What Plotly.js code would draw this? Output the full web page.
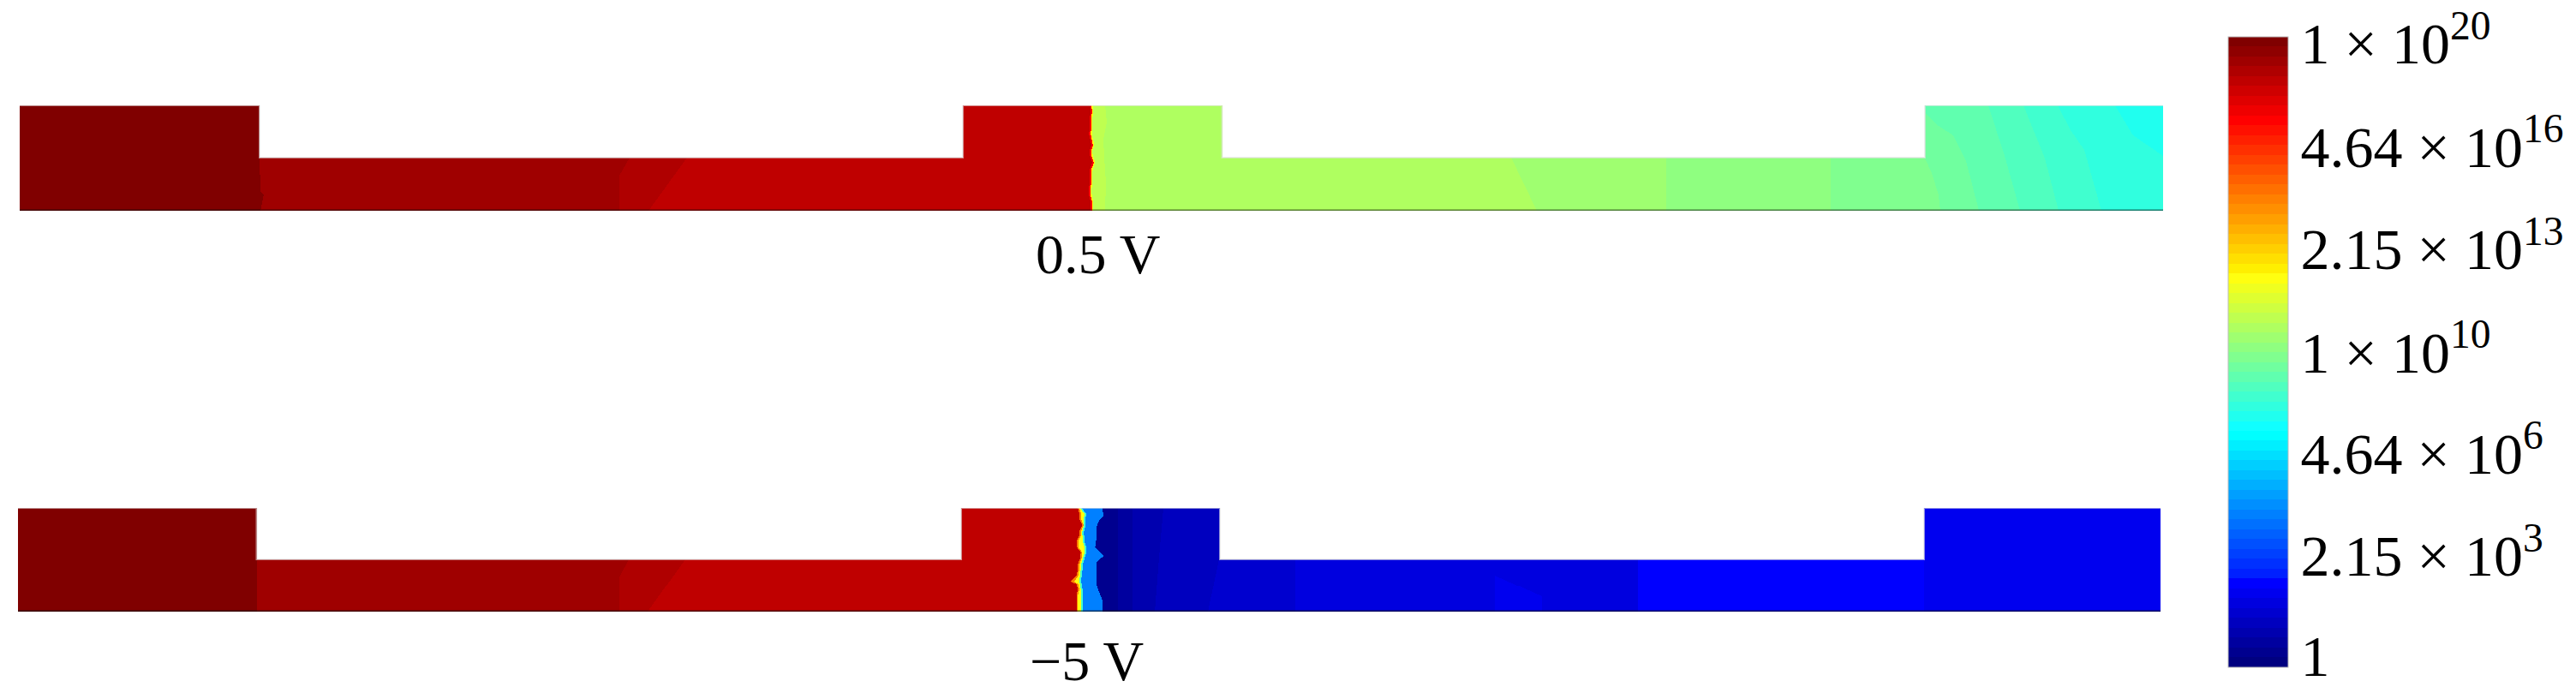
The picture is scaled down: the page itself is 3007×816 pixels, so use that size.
<!DOCTYPE html>
<html>
<head>
<meta charset="utf-8">
<script src="https://cdn.plot.ly/plotly-3.0.1.min.js"></script>
<style>body { margin: 0; background: #fff; }</style>
</head>
<body>
<div id="plot" style="width:3007px;height:816px;"></div>
<script>
// log10 of the concentration, one value per contour band, left to right
var topValues = [19.8, 19.2, 18.9, 18.6, 17.3, 12.3, 11.1, 10.8, 10.47, 10.16, 9.84, 9.53, 9.22, 8.9, 8.6, 8.28, 7.97, 7.66];
var bottomValues = [19.8, 19.2, 18.9, 18.6, 14.8, 12.3, 8.6, 4.84, 0.47, 0.78, 1.09, 1.4, 1.72, 2.03, 2.34, 2.03, 2.66, 2.34];

// band edges: [depths, positions along the device]
var topJunctionDepth = [0, 7, 13, 20, 27, 33, 40, 47, 53, 60, 67, 73, 80, 87, 93, 100, 107, 113, 123];
var topJunction = [1249.3, 1250.3, 1249.3, 1248.7, 1249.3, 1248, 1249.7, 1251, 1248.7, 1249.7, 1252, 1249.7, 1248.7, 1249.3, 1248.7, 1247.7, 1248.7, 1250.3, 1249.7];
var topJunctionRed = [1251, 1252, 1251, 1250.5, 1251, 1250, 1251.5, 1253, 1250.5, 1251.5, 1254, 1251.5, 1250.5, 1251, 1250.5, 1249.5, 1250.5, 1252, 1251.5];
var topJunctionYellow = [1252.5, 1253.5, 1252.5, 1252, 1252.5, 1251.5, 1253, 1254.5, 1252, 1253, 1255.5, 1253, 1252, 1252.5, 1252, 1251, 1252, 1253.5, 1253];
var topEdges = [
  [[0, 61, 100, 104, 123], [280, 280, 281, 285, 281]],
  [[0, 61, 82, 123], [712, 712, 700, 700]],
  [[0, 61, 123], [779, 779, 734]],
  [topJunctionDepth, topJunction],
  [topJunctionDepth, topJunctionRed],
  [topJunctionDepth, topJunctionYellow],
  [[0, 20, 40, 60, 90, 123], [1267, 1269, 1265, 1266, 1268, 1267]],
  [[0, 61, 123], [1741, 1741, 1771]],
  [[0, 123], [1922, 1922]],
  [[0, 123], [2114, 2114]],
  [[0, 62, 79, 105, 123], [2224, 2224, 2232, 2240, 2242]],
  [[0, 10, 24, 35, 65, 123], [2224, 2225, 2240, 2257, 2272, 2287]],
  [[0, 59, 123], [2298, 2317, 2335]],
  [[0, 62, 123], [2339, 2364, 2380]],
  [[0, 29, 52, 123], [2379, 2394, 2410, 2430]],
  [[0, 35, 59, 123], [2446, 2467, 2502, 2510]],
  [[0, 123], [2520, 2520]]
];

var bottomJunctionDepth = [0, 7, 13, 20, 27, 33, 40, 47, 53, 60, 67, 73, 80, 87, 90, 97, 103, 123];
var bottomJunction = [1237.3, 1239, 1239, 1242.3, 1239, 1239, 1235.7, 1236.3, 1240.7, 1239.7, 1237.3, 1237.3, 1235.7, 1229, 1235.7, 1237.3, 1235.7, 1235.7];
var bottomJunctionOrange = [1239, 1241, 1241, 1244, 1241, 1241, 1237.5, 1238, 1242.5, 1241.5, 1239, 1239, 1237.5, 1233, 1237.5, 1239, 1237.5, 1237.5];
var bottomJunctionYellow = [1240, 1245, 1244, 1244.5, 1242.5, 1242.5, 1243, 1245, 1245, 1243, 1240.7, 1240.7, 1239.7, 1239, 1239.7, 1240.7, 1240.7, 1240.7];
var bottomJunctionCyan = [1242, 1247, 1246, 1246.5, 1244.5, 1244.5, 1245, 1247, 1247, 1245, 1242.7, 1242.7, 1241.7, 1241, 1241.7, 1242.7, 1242.7, 1242.7];
var bottomEdges = [
  [[0, 123], [279, 279]],
  [[0, 61, 82, 123], [713, 713, 702, 702]],
  [[0, 61, 123], [779, 779, 735]],
  [bottomJunctionDepth, bottomJunction],
  [bottomJunctionDepth, bottomJunctionOrange],
  [bottomJunctionDepth, bottomJunctionYellow],
  [bottomJunctionDepth, bottomJunctionCyan],
  [[0, 9, 14, 22, 35, 47, 57, 64, 75, 92, 105, 110, 123], [1265.7, 1267.3, 1262.3, 1259, 1259, 1257.3, 1267.3, 1259, 1259, 1259, 1264, 1265.7, 1265.7]],
  [[0, 123], [1284, 1284]],
  [[0, 123], [1301, 1301]],
  [[0, 59, 123], [1337, 1332, 1327]],
  [[0, 61, 123], [1402, 1402, 1389]],
  [[0, 123], [1491, 1491]],
  [[0, 123], [1724, 1724]],
  [[0, 80, 105, 123], [1724, 1724, 1779, 1779]],
  [[0, 123], [1891, 1891]],
  [[0, 123], [2225, 2225]]
];

// device outline
var topOutlineX = [0, 280, 280, 1101, 1101, 1403.5, 1403.5, 2224, 2224, 2502];
var bottomOutlineX = [0, 278.5, 278.5, 1101, 1101, 1403, 1403, 2225, 2225, 2501];
var outlineDepth = [0, 0, 61, 61, 0, 0, 61, 61, 0, 0];

// colour bar labels
var tickValues = [19.8, 16.53, 13.27, 10.0, 6.8, 3.55, 0.38];
var tickLabels = ["1 × 10<sup>20</sup>", "4.64 × 10<sup>16</sup>", "2.15 × 10<sup>13</sup>", "1 × 10<sup>10</sup>", "4.64 × 10<sup>6</sup>", "2.15 × 10<sup>3</sup>", "1"];

var serif = "Liberation Serif, serif";

function edgeAt(edge, d) {
  var ds = edge[0], xs = edge[1];
  for (var i = 1; i < ds.length; i++) {
    if (d <= ds[i]) return xs[i - 1] + (xs[i] - xs[i - 1]) * (d - ds[i - 1]) / (ds[i] - ds[i - 1]);
  }
  return xs[xs.length - 1];
}

// cuts the bands into a grid, cells over the two notches stay empty
function buildGrid(length, outlineX, values, edges) {
  var z = [], x = [], y = [];
  for (var i = 0; i < length; i++) x.push(i + 0.5);
  for (var r = 0; r < 123; r++) {
    var d = r + 0.5;
    y.push(d);
    var row = edges.map(function (e) { return edgeAt(e, d); });
    var cells = new Array(length), b = 0;
    for (var c = 0; c < length; c++) {
      var px = c + 0.5;
      while (b < row.length && px >= row[b]) b++;
      var inNotch = (px > outlineX[1] && px < outlineX[3]) || (px > outlineX[5] && px < outlineX[7]);
      cells[c] = (d < outlineDepth[2] && inNotch) ? null : values[b];
    }
    z.push(cells);
  }
  return {x: x, y: y, z: z};
}

// 64 level jet, same steps as the original bar
function ramp(i) {
  if (i < 1 || i > 47) return 0;
  if (i <= 16) return i / 16;
  if (i <= 31) return 1;
  return (48 - i) / 16;
}
var jetScale = [];
for (var k = 1; k <= 64; k++) {
  var green = k === 9 ? 0 : ramp(k - 8); // level 9 is pure blue in the original
  var col = "rgb(" + Math.round(255 * ramp(k - 24)) + "," + Math.round(255 * green) + "," + Math.round(255 * ramp(k + 7)) + ")";
  jetScale.push([(k - 1) / 64, col]);
  jetScale.push([k / 64, col]);
}

var topGrid = buildGrid(2502, topOutlineX, topValues, topEdges);
var bottomGrid = buildGrid(2501, bottomOutlineX, bottomValues, bottomEdges);

var data = [
  {type: "heatmap", x: topGrid.x, y: topGrid.y, z: topGrid.z, coloraxis: "coloraxis", hoverinfo: "skip", xaxis: "x", yaxis: "y"},
  {type: "heatmap", x: bottomGrid.x, y: bottomGrid.y, z: bottomGrid.z, coloraxis: "coloraxis", hoverinfo: "skip", xaxis: "x2", yaxis: "y2"},
  {type: "scatter", mode: "lines", x: topOutlineX, y: outlineDepth, xaxis: "x", yaxis: "y", cliponaxis: false, hoverinfo: "skip",
    line: {color: "rgba(225,225,225,0.6)", width: 2}},
  {type: "scatter", mode: "lines", x: bottomOutlineX, y: outlineDepth, xaxis: "x2", yaxis: "y2", cliponaxis: false, hoverinfo: "skip",
    line: {color: "rgba(225,225,225,0.6)", width: 2}},
  {type: "scatter", mode: "lines", x: [0, 2502], y: [122.5, 122.5], xaxis: "x", yaxis: "y", cliponaxis: false, hoverinfo: "skip",
    line: {color: "rgba(0,0,0,0.5)", width: 2}},
  {type: "scatter", mode: "lines", x: [0, 2501], y: [122.5, 122.5], xaxis: "x2", yaxis: "y2", cliponaxis: false, hoverinfo: "skip",
    line: {color: "rgba(0,0,0,0.6)", width: 2}}
];

var layout = {
  width: 3007,
  height: 816,
  margin: {l: 0, r: 0, t: 0, b: 0},
  paper_bgcolor: "#fff",
  plot_bgcolor: "rgba(0,0,0,0)",
  showlegend: false,
  xaxis: {domain: [23 / 3007, 2525 / 3007], range: [0, 2502], visible: false},
  yaxis: {domain: [1 - 246 / 816, 1 - 123 / 816], range: [123, 0], visible: false},
  xaxis2: {domain: [21 / 3007, 2522 / 3007], range: [0, 2501], visible: false, anchor: "y2"},
  yaxis2: {domain: [1 - 714 / 816, 1 - 593 / 816], range: [123, 0], visible: false, anchor: "x2"},
  coloraxis: {
    cmin: 0,
    cmax: 20,
    colorscale: jetScale,
    colorbar: {
      x: 2601 / 3007, xanchor: "left", xpad: 0,
      y: 1 - 43 / 816, yanchor: "top", ypad: 0,
      len: 736 / 816, lenmode: "fraction",
      thickness: 70, thicknessmode: "pixels",
      outlinewidth: 1, outlinecolor: "#bbb",
      ticks: "", ticklen: 0,
      tickmode: "array", tickvals: tickValues, ticktext: tickLabels,
      tickfont: {family: serif, size: 68, color: "#000"}
    }
  },
  annotations: [
    {text: "0.5 V", xref: "paper", yref: "paper", x: 1281 / 3007, y: 1 - 296 / 816, xanchor: "center", yanchor: "middle", showarrow: false,
      font: {family: serif, size: 66, color: "#000"}},
    {text: "−5 V", xref: "paper", yref: "paper", x: 1268 / 3007, y: 1 - 771 / 816, xanchor: "center", yanchor: "middle", showarrow: false,
      font: {family: serif, size: 66, color: "#000"}}
  ]
};

Plotly.newPlot("plot", data, layout, {staticPlot: true, displayModeBar: false});
</script>
</body>
</html>
